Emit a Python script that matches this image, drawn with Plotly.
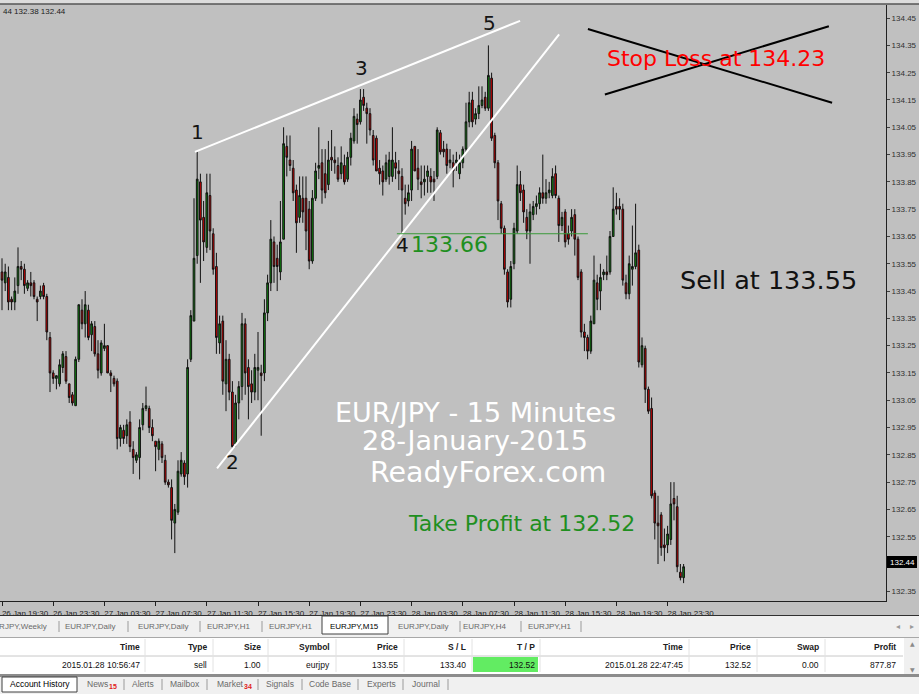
import pandas as pd
import plotly.graph_objects as go

# ---------------- data (EUR/JPY M15) ----------------
open_ = [133.52, 133.48, 133.50, 133.42, 133.41, 133.47, 133.54, 133.53, 133.46, 133.48,
         133.48, 133.42, 133.43, 133.47, 133.43, 133.28, 133.15, 133.13, 133.11, 133.17,
         133.21, 133.11, 133.07, 133.03, 133.20, 133.38, 133.33, 133.38, 133.29, 133.32,
         133.22, 133.15, 133.24, 133.25, 133.15, 133.13, 133.12, 132.91, 132.94, 132.92,
         132.97, 132.87, 132.83, 132.84, 132.96, 133.02, 133.02, 132.95, 132.90, 132.87,
         132.89, 132.83, 132.75, 132.73, 132.60, 132.64, 132.78, 132.82, 132.78, 133.20,
         133.34, 133.58, 133.85, 133.72, 133.61, 133.80, 133.66, 133.54, 133.26, 133.34,
         133.11, 133.20, 133.08, 132.89, 133.04, 133.10, 133.33, 133.17, 133.11, 133.08,
         133.16, 133.15, 133.15, 133.37, 133.48, 133.63, 133.57, 133.52, 133.64, 133.98,
         133.93, 133.90, 133.82, 133.72, 133.79, 133.79, 133.75, 133.56, 133.79, 133.90,
         133.92, 133.88, 133.84, 133.94, 133.93, 133.91, 133.88, 133.91, 133.86, 133.94,
         134.00, 134.08, 134.07, 134.16, 134.12, 134.10, 134.02, 134.01, 133.90, 133.89,
         133.86, 133.87, 133.87, 133.92, 133.89, 133.87, 133.79, 133.78, 133.82, 133.98,
         133.90, 133.85, 133.85, 133.87, 133.87, 133.86, 133.87, 134.03, 133.97, 133.97,
         133.92, 133.92, 133.92, 133.88, 133.92, 133.97, 134.07, 134.15, 134.08, 134.10,
         134.13, 134.16, 134.12, 134.23, 134.02, 133.92, 133.77, 133.68, 133.52, 133.42,
         133.55, 133.67, 133.84, 133.82, 133.72, 133.67, 133.73, 133.76, 133.77, 133.81,
         133.79, 133.81, 133.80, 133.88, 133.79, 133.69, 133.74, 133.66, 133.67, 133.73,
         133.64, 133.52, 133.30, 133.28, 133.23, 133.33, 133.48, 133.45, 133.51, 133.52,
         133.52, 133.65, 133.76, 133.76, 133.75, 133.48, 133.44, 133.53, 133.54, 133.60,
         133.18, 133.24, 133.09, 133.02, 132.71, 132.60, 132.63, 132.52, 132.52, 132.54,
         132.69, 132.66, 132.42, 132.40]
high = [133.57, 133.55, 133.54, 133.43, 133.50, 133.61, 133.56, 133.55, 133.49, 133.52,
        133.49, 133.43, 133.47, 133.48, 133.44, 133.30, 133.16, 133.14, 133.20, 133.23,
        133.23, 133.11, 133.08, 133.21, 133.40, 133.42, 133.45, 133.40, 133.34, 133.34,
        133.27, 133.27, 133.33, 133.25, 133.16, 133.14, 133.13, 132.96, 132.96, 132.98,
        133.01, 132.90, 132.86, 132.98, 133.04, 133.10, 133.03, 132.98, 132.90, 132.91,
        132.90, 132.85, 132.76, 132.76, 132.67, 132.83, 132.86, 132.83, 133.20, 133.38,
        133.79, 133.96, 133.88, 133.78, 133.88, 133.88, 133.68, 133.59, 133.36, 133.36,
        133.27, 133.22, 133.12, 133.07, 133.12, 133.37, 133.35, 133.20, 133.16, 133.22,
        133.30, 133.18, 133.42, 133.51, 133.71, 133.65, 133.62, 133.78, 134.05, 134.02,
        134.02, 133.93, 133.84, 133.87, 133.87, 133.87, 133.78, 133.82, 133.92, 134.05,
        133.97, 133.97, 134.00, 134.04, 133.98, 133.94, 133.98, 133.95, 133.96, 134.03,
        134.12, 134.10, 134.19, 134.19, 134.14, 134.12, 134.04, 134.02, 133.93, 133.91,
        133.95, 133.96, 134.05, 133.96, 133.93, 133.90, 133.84, 133.84, 134.00, 133.98,
        133.97, 133.91, 133.91, 133.91, 133.90, 133.89, 134.05, 134.04, 134.00, 133.99,
        133.97, 133.95, 133.96, 133.95, 133.98, 134.14, 134.18, 134.18, 134.12, 134.20,
        134.20, 134.18, 134.35, 134.25, 134.03, 133.93, 133.78, 133.69, 133.53, 133.56,
        133.70, 133.91, 133.89, 133.84, 133.75, 133.77, 133.78, 133.80, 133.83, 133.95,
        133.86, 133.85, 133.90, 133.91, 133.80, 133.74, 133.75, 133.69, 133.75, 133.75,
        133.65, 133.53, 133.33, 133.29, 133.36, 133.58, 133.51, 133.55, 133.53, 133.58,
        133.67, 133.83, 133.81, 133.79, 133.77, 133.51, 133.58, 133.69, 133.77, 133.62,
        133.28, 133.25, 133.10, 133.06, 132.72, 132.70, 132.64, 132.58, 132.59, 132.75,
        132.75, 132.70, 132.45, 132.45]
low = [133.38, 133.45, 133.38, 133.38, 133.38, 133.44, 133.49, 133.44, 133.45, 133.43,
       133.42, 133.34, 133.42, 133.42, 133.27, 133.08, 133.11, 133.09, 133.10, 133.15,
       133.11, 133.04, 133.03, 133.03, 133.19, 133.31, 133.28, 133.27, 133.23, 133.21,
       133.13, 133.14, 133.23, 133.15, 133.08, 133.10, 132.87, 132.88, 132.89, 132.89,
       132.86, 132.78, 132.82, 132.76, 132.94, 133.01, 132.93, 132.90, 132.79, 132.83,
       132.82, 132.74, 132.73, 132.54, 132.49, 132.63, 132.77, 132.74, 132.73, 133.19,
       133.34, 133.55, 133.48, 133.56, 133.59, 133.60, 133.51, 133.22, 133.22, 133.07,
       133.01, 133.05, 132.87, 132.88, 132.98, 133.05, 133.07, 132.98, 133.04, 133.05,
       133.05, 132.92, 133.12, 133.34, 133.45, 133.48, 133.45, 133.49, 133.64, 133.87,
       133.89, 133.78, 133.59, 133.70, 133.70, 133.60, 133.53, 133.55, 133.78, 133.86,
       133.77, 133.79, 133.82, 133.89, 133.88, 133.85, 133.86, 133.84, 133.85, 133.91,
       133.99, 133.99, 134.06, 134.11, 133.99, 134.02, 133.91, 133.89, 133.84, 133.80,
       133.85, 133.84, 133.85, 133.86, 133.82, 133.66, 133.73, 133.76, 133.78, 133.89,
       133.82, 133.79, 133.80, 133.81, 133.81, 133.78, 133.86, 133.95, 133.94, 133.88,
       133.90, 133.83, 133.89, 133.86, 133.90, 133.96, 134.05, 134.05, 134.06, 134.08,
       134.12, 134.11, 134.11, 134.00, 133.90, 133.71, 133.66, 133.51, 133.39, 133.39,
       133.53, 133.66, 133.78, 133.70, 133.64, 133.55, 133.71, 133.73, 133.75, 133.77,
       133.77, 133.79, 133.79, 133.79, 133.63, 133.67, 133.61, 133.62, 133.65, 133.58,
       133.49, 133.28, 133.23, 133.20, 133.22, 133.33, 133.38, 133.38, 133.49, 133.49,
       133.51, 133.65, 133.73, 133.71, 133.47, 133.42, 133.42, 133.47, 133.53, 133.17,
       133.17, 133.04, 133.00, 132.69, 132.54, 132.45, 132.48, 132.46, 132.49, 132.52,
       132.61, 132.42, 132.39, 132.38]
close = [133.49, 133.52, 133.41, 133.41, 133.45, 133.54, 133.53, 133.47, 133.48, 133.47,
         133.43, 133.41, 133.45, 133.43, 133.30, 133.15, 133.13, 133.14, 133.18, 133.22,
         133.12, 133.06, 133.04, 133.20, 133.40, 133.33, 133.40, 133.28, 133.33, 133.22,
         133.16, 133.26, 133.25, 133.15, 133.14, 133.11, 132.91, 132.95, 132.91, 132.96,
         132.88, 132.84, 132.85, 132.95, 133.02, 133.03, 132.95, 132.92, 132.88, 132.90,
         132.84, 132.75, 132.74, 132.61, 132.65, 132.79, 132.83, 132.77, 133.17, 133.36,
         133.57, 133.86, 133.71, 133.63, 133.81, 133.67, 133.53, 133.28, 133.33, 133.12,
         133.20, 133.08, 132.88, 133.04, 133.10, 133.33, 133.15, 133.10, 133.08, 133.17,
         133.17, 133.14, 133.37, 133.48, 133.64, 133.54, 133.54, 133.63, 133.99, 133.94,
         133.91, 133.81, 133.70, 133.80, 133.74, 133.67, 133.56, 133.79, 133.89, 133.91,
         133.82, 133.81, 133.93, 133.93, 133.92, 133.86, 133.92, 133.85, 133.94, 134.01,
         134.09, 134.06, 134.15, 134.13, 134.10, 134.04, 133.93, 133.89, 133.88, 133.85,
         133.92, 133.93, 133.93, 133.90, 133.88, 133.82, 133.77, 133.81, 133.97, 133.89,
         133.86, 133.84, 133.86, 133.89, 133.85, 133.85, 134.04, 133.96, 133.96, 133.91,
         133.93, 133.89, 133.93, 133.92, 133.97, 134.07, 134.14, 134.07, 134.10, 134.13,
         134.15, 134.12, 134.24, 134.01, 133.92, 133.78, 133.68, 133.53, 133.41, 133.54,
         133.68, 133.84, 133.81, 133.74, 133.67, 133.74, 133.76, 133.77, 133.81, 133.79,
         133.81, 133.82, 133.87, 133.80, 133.69, 133.72, 133.63, 133.64, 133.72, 133.64,
         133.50, 133.30, 133.28, 133.23, 133.34, 133.49, 133.42, 133.50, 133.52, 133.51,
         133.65, 133.75, 133.75, 133.75, 133.49, 133.44, 133.55, 133.54, 133.59, 133.19,
         133.25, 133.09, 133.01, 132.70, 132.60, 132.59, 132.51, 132.51, 132.56, 132.67,
         132.67, 132.44, 132.40, 132.44]

time_labels = ["26 Jan 19:30", "26 Jan 23:30", "27 Jan 03:30", "27 Jan 07:30", "27 Jan 11:30",
               "27 Jan 15:30", "27 Jan 19:30", "27 Jan 23:30", "28 Jan 03:30", "28 Jan 07:30",
               "28 Jan 11:30", "28 Jan 15:30", "28 Jan 19:30", "28 Jan 23:30"]
price_ticks = [132.35, 132.55, 132.65, 132.75, 132.85, 132.95, 133.05, 133.15, 133.25, 133.35,
               133.45, 133.55, 133.65, 133.75, 133.85, 133.95, 134.05, 134.15, 134.25, 134.35, 134.45]

# wedge pivots / drawn objects (bar index, price)
upper_line = [(60.3, 133.96), (161.9, 134.44)]
lower_line = [(67.2, 132.80), (174.1, 134.39)]
cross_a = [(183.1, 134.41), (259.4, 134.14)]
cross_b = [(188.4, 134.17), (258.4, 134.42)]
level_466 = 133.66
level_span = (123.4, 183.1)

tab_names = ["EURJPY,Weekly", "EURJPY,Daily", "EURJPY,Daily", "EURJPY,H1", "EURJPY,H1",
             "EURJPY,M15", "EURJPY,Daily", "EURJPY,H4", "EURJPY,H1"]
col_heads = ["Time", "Type", "Size", "Symbol", "Price", "S / L", "T / P", "Time", "Price", "Swap", "Profit"]
row_vals = ["2015.01.28 10:56:47", "sell", "1.00", "eurjpy", "133.55", "133.40", "132.52",
            "2015.01.28 22:47:45", "132.52", "0.00", "877.87"]
bottom_tabs = ["Account History", "News", "Alerts", "Mailbox", "Market", "Signals",
               "Code Base", "Experts", "Journal"]

# ---------------- figure ----------------
start = pd.Timestamp("2015-01-26 19:30")
times = pd.date_range(start, periods=len(close), freq="15min")


def t(k):
    return start + pd.Timedelta(minutes=15 * k)


W, H = 919, 694
PX0, PX1, PY0, PY1 = 0, 886, 5, 601


def px(x):
    return (x - PX0) / (PX1 - PX0)


def py(y):
    return (PY1 - y) / (PY1 - PY0)


fig = go.Figure(go.Candlestick(
    x=times, open=open_, high=high, low=low, close=close,
    increasing=dict(line=dict(color="#111111", width=1), fillcolor="#0e8a0e"),
    decreasing=dict(line=dict(color="#111111", width=1), fillcolor="#dd0000"),
    whiskerwidth=0, showlegend=False, hoverinfo="skip"))

shapes = []


def dline(p, q, color, width):
    shapes.append(dict(type="line", xref="x", yref="y", x0=t(p[0]), y0=p[1], x1=t(q[0]), y1=q[1],
                       line=dict(color=color, width=width)))


dline(*upper_line, "white", 2)
dline(*lower_line, "white", 2)
dline(*cross_a, "black", 2)
dline(*cross_b, "black", 2)
shapes.append(dict(type="line", xref="x", yref="y", x0=t(level_span[0]), x1=t(level_span[1]),
                   y0=level_466, y1=level_466, line=dict(color="#3a9a3a", width=1)))


def rect(x0, y0, x1, y1, fill, line=None, lw=1):
    shapes.append(dict(type="rect", xref="paper", yref="paper", x0=px(x0), x1=px(x1), y0=py(y0), y1=py(y1),
                       fillcolor=fill, line=dict(color=line or fill, width=lw if line else 0), layer="above"))


def pline(x0, y0, x1, y1, color, w=1):
    shapes.append(dict(type="line", xref="paper", yref="paper", x0=px(x0), x1=px(x1), y0=py(y0), y1=py(y1),
                       line=dict(color=color, width=w), layer="above"))


# top strip
rect(0, 0, W, 3.5, "#dcdcdc")
pline(0, 4, W, 4, "#202020", 1)
# tabs row
rect(0, 616, W, 637, "#f0f0f0")
pline(0, 615.5, W, 615.5, "#303030", 1)
rect(322, 616, 388, 634, "#ffffff", "#404040", 1)
for sx in [59, 128, 200, 262, 460, 521, 581]:
    pline(sx, 621, sx, 632, "#9a9a9a", 1)
# table
rect(0, 637, W, 674, "#ffffff")
pline(0, 637.5, W, 637.5, "#a8a8a8", 1)
pline(0, 656, 903, 656, "#c8c8c8", 1)
for cx in [145, 213, 268, 336, 404, 472, 540, 689, 757, 825]:
    pline(cx, 639, cx, 672, "#e2e2e2", 1)
rect(473, 657, 538, 672, "#62ec62")
rect(904, 638, W, 674, "#f0f0f0")
rect(0, 674, W, 677, "#8c8c8c")
# bottom tabs
rect(0, 677, W, H, "#f0f0f0")
rect(2, 677, 77, 692, "#ffffff", "#404040", 1)
for sx in [124, 162, 207, 258, 302, 358, 403, 448]:
    pline(sx, 679, sx, 690, "#9a9a9a", 1)
# price box
rect(887, 556, 917, 568, "#000000")

ann = []


def txt(x, y, s, size, color, xanchor="center", family="DejaVu Sans", weight=None):
    f = dict(size=size, color=color, family=family)
    if weight:
        f["weight"] = weight
    ann.append(dict(x=px(x), y=py(y), xref="paper", yref="paper", text=s, showarrow=False,
                    xanchor=xanchor, yanchor="middle", font=f))


# chart texts
txt(1, 11, "44 132.38 132.44", 8, "#202020", "left", "Liberation Sans")
for lab, (lx, ly) in zip(["1", "2", "3", "4", "5"], [(197, 132), (233, 462), (361, 68), (402, 245), (489, 23)]):
    txt(lx, ly, lab, 20, "#141414")
txt(409, 245, "133.66", 22, "#1f8f1f", "left")
txt(716, 58, "Stop Loss at 134.23", 22, "#ff0000")
txt(768, 280, "Sell at 133.55", 25.5, "#111111")
txt(475, 412, "EUR/JPY - 15 Minutes", 27, "#ffffff")
txt(475, 441, "28-January-2015", 27, "#ffffff")
txt(488, 472, "ReadyForex.com", 28.5, "#ffffff")
txt(521, 523, "Take Profit at 132.52", 22, "#1f8f1f")
txt(902, 562, "132.44", 8, "#ffffff", "center", "Liberation Sans")

# tabs
tab_x = [49, 90, 163, 229.5, 291, 354, 423, 485, 550]
for i, (name, x) in enumerate(zip(tab_names, tab_x)):
    txt(x, 626, name, 8, "#000000" if name.endswith("M15") else "#6a6a6a",
        "right" if i == 0 else "center", "Liberation Sans")
txt(898, 626, "\u25c2", 8, "#9a9a9a", "center", "DejaVu Sans")
txt(912, 626, "\u25b8", 8, "#9a9a9a", "center", "DejaVu Sans")

# table
col_right = [142, 209, 263, 332, 400, 468, 537, 685, 753, 821, 898]
for hname, v, xr in zip(col_heads, row_vals, col_right):
    txt(xr, 647, hname, 8.5, "#202020", "right", "Liberation Sans", 600)
    txt(xr, 665, v, 8.5, "#101010", "right", "Liberation Sans")
txt(912, 643, "\u25b2", 6, "#8a8a8a")
txt(912, 669, "\u25bc", 6, "#8a8a8a")

# bottom tabs
bt_pos = [(39.5, "center"), (85, "left"), (143, "center"), (184.5, "center"), (215, "left"),
          (280, "center"), (329.5, "center"), (381, "center"), (425.5, "center")]
for name, (x, anc) in zip(bottom_tabs, bt_pos):
    txt(x, 684, name, 8.5, "#000000" if name == "Account History" else "#6a6a6a", anc, "Liberation Sans")
txt(107, 686, "15", 7, "#e02020", "left", "Liberation Sans", 700)
txt(242, 686, "34", 7, "#e02020", "left", "Liberation Sans", 700)

fig.update_layout(
    width=W, height=H,
    margin=dict(l=PX0, r=W - PX1, t=PY0, b=H - PY1),
    paper_bgcolor="#c0c0c0", plot_bgcolor="#c0c0c0",
    boxgap=0.25,
    shapes=shapes, annotations=ann,
    font=dict(family="Liberation Sans", size=8, color="#202020"),
    xaxis=dict(
        type="date", range=[t(-0.625), t(276.25)],
        rangeslider=dict(visible=False),
        tickvals=list(pd.date_range(start, periods=len(time_labels), freq="4h")),
        ticktext=time_labels, ticks="outside", ticklen=4, tickcolor="#202020",
        ticklabelshift=23, ticklabelstandoff=0,
        showgrid=False, zeroline=False, showline=True, linecolor="#202020", linewidth=1,
        tickfont=dict(size=8, color="#202020", family="Liberation Sans"),
    ),
    yaxis=dict(
        side="right", range=[132.3145, 134.498],
        tickvals=price_ticks, ticktext=[f"{v:.2f}" for v in price_ticks],
        ticks="outside", ticklen=3, tickcolor="#404040",
        showgrid=False, zeroline=False, showline=True, linecolor="#202020", linewidth=1,
        tickfont=dict(size=8, color="#303030", family="Liberation Sans"),
    ),
)

fig.write_html("out.html", config={"displayModeBar": False},
               post_script="document.body.style.margin='0px';document.body.style.overflow='hidden';")
